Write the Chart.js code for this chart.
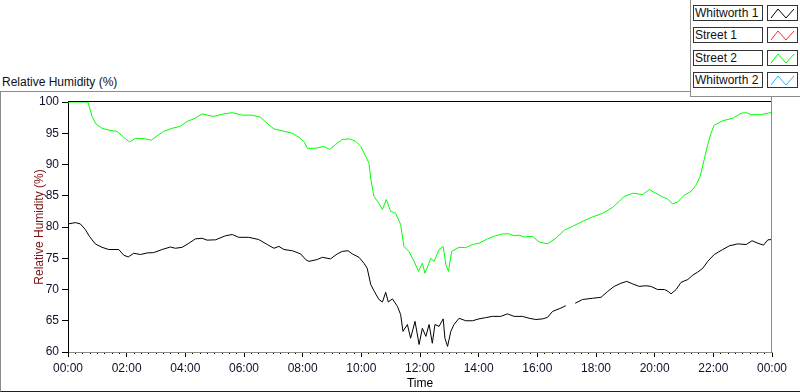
<!DOCTYPE html>
<html>
<head>
<meta charset="utf-8">
<script src="https://cdn.jsdelivr.net/npm/chart.js@4.4.1/dist/chart.umd.min.js"></script>
<style>
  body { margin: 0; width: 800px; height: 392px; background: #fff; overflow: hidden; position: relative;
    font-family: "Liberation Sans", Arial, sans-serif; font-size: 12px; color: #111; }
  #frame { position: absolute; left: 0; top: 91px; width: 800px; height: 301px; box-sizing: border-box;
    border-top: 1px solid #8c8c8c; border-left: 1px solid #8c8c8c; border-bottom: 1px solid #202020; }
  #graph-title { position: absolute; left: 2px; top: 75px; white-space: nowrap; }
  #wrap { position: absolute; left: 0; top: 0; width: 800px; height: 392px; }
  #legend { position: absolute; left: 690px; top: 0; width: 110px; height: 97px; background: #fff;
    border-left: 1px solid #8c8c8c; border-bottom: 1px solid #8c8c8c; box-sizing: border-box; }
  .name { position: absolute; left: 2px; width: 70px; height: 16px; border: 1px solid #333; box-sizing: border-box;
    line-height: 14px; padding-left: 1px; white-space: nowrap; overflow: hidden; background: #fff; }
  .icon { position: absolute; left: 76px; width: 31px; height: 16px; border: 1px solid #333; box-sizing: border-box; background: #fff; }
  .icon svg { display: block; }
</style>
</head>
<body>
<div id="frame"></div>
<div id="graph-title">Relative Humidity (%)</div>
<div id="wrap"><canvas id="chart" width="800" height="392"></canvas></div>
<div id="legend"></div>
<script>
const seriesNames = ["Whitworth 1", "Street 1", "Street 2", "Whitworth 2"];
const seriesColors = ["#000000", "#ff2a2a", "#00ff00", "#2ab4ff"];
const timeLabels = ["00:00", "02:00", "04:00", "06:00", "08:00", "10:00", "12:00",
  "14:00", "16:00", "18:00", "20:00", "22:00", "00:00"];

// [hour, RH %]
const whitworth1 = [
  [0, 80.5], [0.25, 80.7], [0.42, 80.5], [0.59, 79.6], [0.73, 78.5], [0.93, 77.3], [1.16, 76.75], [1.39, 76.4],
  [1.73, 76.4], [1.9, 75.5], [2.05, 75.2], [2.24, 75.8], [2.47, 75.6], [2.7, 75.85], [2.92, 75.9], [3.21, 76.4],
  [3.49, 76.8], [3.66, 76.6], [3.89, 76.75], [4.12, 77.4], [4.34, 78.1], [4.57, 78.2], [4.74, 77.9], [5.03, 77.95],
  [5.37, 78.6], [5.6, 78.8], [5.82, 78.35], [6.16, 78.35], [6.5, 78.0], [6.79, 77.2], [7.02, 76.6], [7.19, 76.9],
  [7.36, 76.4], [7.65, 76.2], [7.93, 75.7], [8.1, 74.8], [8.21, 74.5], [8.5, 74.8], [8.67, 75.15], [8.95, 74.9],
  [9.18, 75.7], [9.35, 76.1], [9.55, 76.2], [9.69, 75.7], [9.92, 75.15], [10.09, 74.2], [10.2, 73.4], [10.32, 70.8],
  [10.43, 69.8], [10.6, 68.4], [10.72, 68.0], [10.83, 69.55], [10.92, 68.0], [11.06, 68.5], [11.23, 67.3], [11.34, 66.0],
  [11.42, 63.3], [11.57, 64.4], [11.68, 62.2], [11.83, 64.9], [11.97, 61.2], [12.08, 63.8], [12.2, 62.5], [12.31, 64.4],
  [12.42, 61.4], [12.51, 64.4], [12.65, 64.1], [12.79, 65.3], [12.85, 62.2], [12.94, 60.9], [13.05, 63.3], [13.16, 64.4],
  [13.33, 65.4], [13.56, 65.0], [13.79, 65.0], [14.01, 65.3], [14.24, 65.5], [14.47, 65.7], [14.75, 65.7], [14.98, 66.1],
  [15.21, 65.7], [15.49, 65.7], [15.72, 65.4], [15.95, 65.2], [16.18, 65.3], [16.35, 65.55], [16.52, 66.5], [16.74, 66.9],
  [16.97, 67.4], [17.1, null], [17.29, 67.8], [17.54, 68.4], [17.88, 68.6], [18.17, 68.75], [18.4, 69.7], [18.62, 70.5],
  [18.85, 71.0], [19.05, 71.3], [19.25, 70.9], [19.47, 70.5], [19.7, 70.6], [19.87, 70.5], [20.1, 70.0], [20.33, 70.0],
  [20.46, 69.7], [20.56, 69.3], [20.73, 70.0], [20.9, 71.15], [21.13, 71.6], [21.3, 72.3], [21.47, 72.8], [21.64, 73.4],
  [21.81, 74.5], [22.03, 75.6], [22.32, 76.4], [22.55, 77.0], [22.83, 77.3], [23.12, 77.2], [23.32, 77.8], [23.52, 77.4],
  [23.71, 77.1], [23.86, 77.95], [24, 78.0]
];
const street1 = [];
const street2 = [
  [0, 100], [0.68, 100], [0.82, 97.7], [0.95, 96.5], [1.16, 95.8], [1.39, 95.5], [1.67, 95.3], [1.9, 94.35],
  [2.1, 93.6], [2.3, 94.2], [2.64, 94.1], [2.84, 93.9], [3.04, 94.6], [3.26, 95.3], [3.55, 95.8], [3.83, 96.1],
  [4.06, 96.9], [4.29, 97.3], [4.57, 98.1], [4.74, 97.9], [4.97, 97.7], [5.31, 98.1], [5.6, 98.3], [5.94, 97.9],
  [6.28, 97.9], [6.56, 97.55], [6.79, 96.6], [7.02, 95.7], [7.3, 95.4], [7.65, 95.0], [7.87, 94.35], [8.04, 93.7],
  [8.16, 92.6], [8.44, 92.6], [8.72, 92.9], [8.92, 92.4], [9.12, 93.2], [9.35, 94.0], [9.6, 94.1], [9.81, 93.7],
  [9.98, 92.9], [10.15, 91.3], [10.26, 90.2], [10.32, 87.8], [10.43, 84.9], [10.6, 83.8], [10.72, 82.8], [10.85, 84.4],
  [11.0, 82.5], [11.17, 82.2], [11.34, 80.4], [11.45, 76.9], [11.62, 76.1], [11.8, 74.5], [11.95, 72.9], [12.08, 74.2],
  [12.17, 72.6], [12.37, 75.0], [12.48, 74.5], [12.65, 76.4], [12.79, 76.9], [12.88, 74.0], [12.97, 72.9], [13.08, 76.1],
  [13.33, 76.75], [13.56, 76.7], [13.79, 77.2], [14.01, 77.4], [14.3, 78.1], [14.58, 78.6], [14.81, 78.9], [15.04, 78.9],
  [15.21, 78.6], [15.38, 78.7], [15.55, 78.4], [15.84, 78.5], [16.06, 77.6], [16.35, 77.3], [16.63, 78.2], [16.92, 79.5],
  [17.2, 80.1], [17.54, 80.9], [17.88, 81.6], [18.23, 82.2], [18.57, 83.15], [18.79, 84.1], [18.96, 84.9], [19.09, 85.1],
  [19.25, 85.4], [19.59, 85.2], [19.82, 86.0], [20.04, 85.4], [20.27, 84.8], [20.44, 84.5], [20.61, 83.7], [20.78, 84.0],
  [21.01, 85.1], [21.24, 85.7], [21.41, 86.7], [21.55, 88.1], [21.69, 90.8], [21.81, 93.2], [21.92, 95.0], [22.03, 96.3],
  [22.32, 97.0], [22.66, 97.4], [22.95, 98.2], [23.12, 98.3], [23.29, 97.97], [23.63, 97.97], [24, 98.35]
];
const whitworth2 = [];

const seriesData = [whitworth1, street1, street2, whitworth2];

// legend boxes (LabVIEW style)
const legend = document.getElementById("legend");
seriesNames.forEach((name, i) => {
  const top = Math.round(5 + i * 22.4);
  const box = document.createElement("div");
  box.className = "name";
  box.style.top = top + "px";
  box.textContent = name;
  legend.appendChild(box);
  const icon = document.createElement("div");
  icon.className = "icon";
  icon.style.top = top + "px";
  icon.innerHTML = '<svg width="29" height="14"><polyline points="3,12 10,3 18,12 26,3" fill="none" stroke="' +
    seriesColors[i] + '" stroke-width="1"/></svg>';
  legend.appendChild(icon);
});

Chart.defaults.font.family = '"Liberation Sans", Arial, sans-serif';
Chart.defaults.font.size = 12;
Chart.defaults.color = "#111";

// top and right edges of the plot area
const plotFrame = {
  id: "plotFrame",
  afterDraw(chart) {
    const { ctx, chartArea: a } = chart;
    ctx.save();
    ctx.lineWidth = 1;
    ctx.strokeStyle = "#000";
    ctx.beginPath();
    ctx.moveTo(a.left, a.top - 0.5);
    ctx.lineTo(a.right, a.top - 0.5);
    ctx.stroke();
    ctx.strokeStyle = "#8c8c8c";
    ctx.beginPath();
    ctx.moveTo(a.right - 0.5, a.top - 7);
    ctx.lineTo(a.right - 0.5, a.bottom + 1);
    ctx.stroke();
    ctx.restore();
  }
};

new Chart(document.getElementById("chart"), {
  type: "line",
  data: {
    datasets: seriesNames.map((name, i) => ({
      label: name,
      data: seriesData[i].map(([x, y]) => ({ x: x, y: y })),
      borderColor: seriesColors[i],
      borderWidth: 1,
      pointRadius: 0,
      tension: 0,
      spanGaps: false
    }))
  },
  options: {
    responsive: false,
    animation: false,
    layout: { padding: { top: 102, right: 28, left: 0, bottom: 0 } },
    plugins: { legend: { display: false }, tooltip: { enabled: false } },
    scales: {
      x: {
        type: "linear", position: "bottom", min: 0, max: 24, weight: 1,
        afterFit: (s) => { s.height = 40; },
        ticks: {
          stepSize: 2, autoSkip: false, maxRotation: 0, padding: 4, color: "#10102a",
          callback: (v) => timeLabels[Math.round(v / 2)]
        },
        grid: { drawOnChartArea: false, tickLength: 5, color: "#000" },
        border: { color: "#8c8c8c" },
        title: { display: true, text: "Time", color: "#000", padding: { top: 0, bottom: 1 } }
      },
      xMinor: {
        type: "linear", position: "bottom", min: 0, max: 24, weight: 0,
        afterFit: (s) => { s.height = 0; },
        ticks: { stepSize: 0.25, maxTicksLimit: 200, autoSkip: false, display: false },
        grid: { drawOnChartArea: false, tickLength: 2, color: "#000" },
        border: { display: false }
      },
      y: {
        min: 60, max: 100,
        afterFit: (s) => { s.width = 68; },
        ticks: { stepSize: 5, padding: 3, color: "#10102a" },
        grid: { drawOnChartArea: false, tickLength: 6, color: "#000" },
        border: { color: "#000" },
        title: { display: true, text: "Relative Humidity (%)", color: "#7a1010", padding: { top: 32 } }
      }
    }
  },
  plugins: [plotFrame]
});
</script>
</body>
</html>
